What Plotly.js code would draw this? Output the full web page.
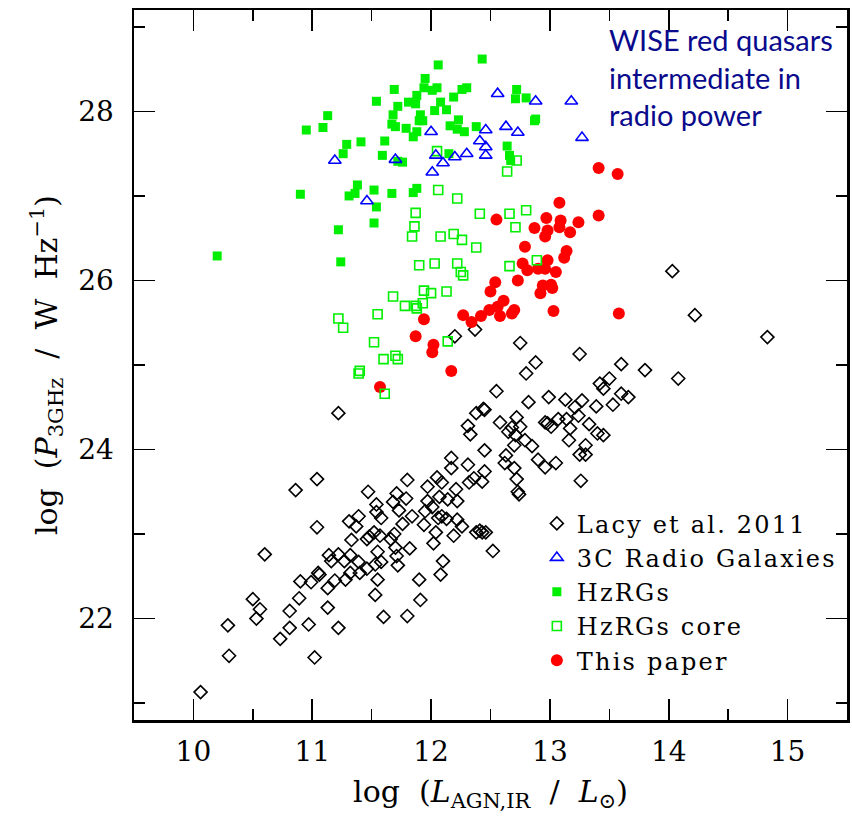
<!DOCTYPE html>
<html>
<head>
<meta charset="utf-8">
<script src="https://cdn.plot.ly/plotly-3.0.1.min.js"></script>
<style>
  html, body { margin: 0; padding: 0; background: #fff; }
  #chart { width: 852px; height: 818px; }
  /* wide, evenly spaced legend lettering (also applies while the legend is measured) */
  .legendtext { letter-spacing: 2.2px; }
</style>
</head>
<body>
<div id="chart"></div>
<script>
// log L_AGN,IR (x) and log P_3GHz (y) for each sample

// Lacy et al. 2011
const lacyX = [10.06,10.29,10.30,10.50,10.53,10.56,10.60,10.73,10.81,10.81,10.86,10.89,10.90,10.97,10.99,11.02,11.04,11.04,11.05,11.06,
  11.13,11.13,11.14,11.16,11.19,11.22,11.22,11.22,11.27,11.28,11.31,11.32,11.32,11.33,11.37,11.39,11.39,11.40,11.46,11.46,
  11.47,11.48,11.52,11.53,11.53,11.54,11.54,11.55,11.55,11.57,11.58,11.58,11.60,11.66,11.68,11.69,11.70,11.71,11.71,11.72,
  11.73,11.76,11.79,11.80,11.80,11.82,11.84,11.90,11.91,11.94,11.95,11.97,11.97,12.01,12.02,12.04,12.05,12.06,12.07,12.08,
  12.09,12.09,12.10,12.13,12.14,12.17,12.17,12.19,12.21,12.22,12.22,12.26,12.31,12.31,12.33,12.36,12.38,12.38,12.41,12.43,
  12.46,12.52,12.45,12.44,12.58,12.68,12.72,12.75,12.65,12.71,12.70,12.79,12.85,12.63,12.62,12.70,12.72,12.73,12.90,12.96,
  12.96,12.82,12.45,12.43,14.22,14.83,12.75,12.20,12.37,13.25,12.88,12.80,13.60,13.80,14.08,12.55,13.50,13.42,13.45,13.60,
  13.66,12.99,13.13,13.27,13.21,13.24,13.39,13.53,12.45,12.98,13.01,13.07,13.14,13.17,13.33,13.40,13.45,13.16,13.25,13.30,
  13.30,13.26,13.05,12.74,12.32,14.03];
const lacyY = [21.13,21.92,21.56,22.23,22.00,22.11,22.76,21.76,21.89,22.09,23.52,22.24,22.44,21.93,22.43,21.54,23.65,23.08,22.54,22.52,
  22.36,22.13,22.75,22.68,22.45,21.89,22.76,24.43,22.68,22.46,23.15,22.54,22.75,22.93,23.09,23.21,22.67,22.54,22.59,22.94,
  23.50,22.97,23.02,22.64,22.28,23.35,23.26,22.79,22.46,22.98,22.67,23.19,22.02,22.94,23.38,23.00,22.84,22.74,23.48,22.63,
  23.28,23.12,23.42,23.64,22.03,22.83,23.21,22.46,22.22,23.11,23.27,23.56,23.39,23.32,22.89,23.02,23.67,23.19,23.44,22.52,
  23.61,23.21,22.68,23.18,23.41,23.90,23.78,22.98,23.53,23.39,23.17,23.09,23.82,24.28,24.18,23.66,24.43,23.02,23.04,23.02,
  23.02,22.80,23.99,24.48,24.32,24.26,24.38,24.27,24.21,24.17,24.05,24.11,24.04,23.93,23.84,23.78,23.65,23.50,23.88,23.79,
  24.32,24.56,23.74,23.62,25.59,25.33,25.26,25.34,25.42,25.13,25.03,24.90,25.01,24.94,24.84,24.69,24.84,24.78,24.72,24.66,
  24.62,24.62,24.59,24.58,24.50,24.40,24.51,24.53,24.47,24.31,24.27,24.36,24.36,24.25,24.30,24.19,24.17,24.11,23.94,24.05,
  23.94,23.63,23.84,23.47,23.61,26.11];

// 3C radio galaxies
const radio3cX = [12.56,12.88,13.18,13.27,12.00,12.63,12.73,12.46,12.41,12.46,12.46,12.30,12.20,12.10,12.04,12.01,11.70,11.19,11.46];
const radio3cY = [28.21,28.12,28.12,27.69,27.76,27.82,27.75,27.78,27.65,27.58,27.48,27.50,27.46,27.39,27.48,27.28,27.43,27.42,26.94];

// High-redshift radio galaxies, total emission
const hzrgX = [12.43,12.06,11.95,11.69,11.94,12.01,12.05,12.26,12.30,12.72,12.71,12.80,11.54,11.72,11.81,11.87,11.88,12.19,12.08,12.03,
  12.13,11.13,10.95,11.09,11.68,11.67,11.70,11.79,11.91,11.90,11.93,11.88,11.85,12.23,12.16,12.22,12.28,12.38,12.88,12.87,
  11.29,11.26,11.41,11.61,11.59,11.76,11.72,12.15,12.64,12.66,12.67,11.38,11.36,11.31,11.52,11.67,11.54,11.88,11.85,10.90,
  11.52,11.22,10.20,11.24];
const hzrgY = [28.62,28.55,28.39,28.26,28.28,28.25,28.28,28.26,28.28,28.26,28.15,28.16,28.12,28.06,28.11,28.09,28.19,28.17,28.11,28.01,
  28.02,27.95,27.78,27.81,27.96,27.85,27.82,27.80,27.96,27.89,27.89,27.76,27.70,27.90,27.83,27.79,27.76,27.82,27.91,27.89,
  27.61,27.50,27.64,27.65,27.48,27.40,27.41,27.50,27.59,27.48,27.42,27.13,27.03,27.00,27.07,27.03,26.87,27.09,27.04,27.02,
  26.68,26.60,26.29,26.22];

// High-redshift radio galaxies, core emission
const coreX = [12.06,12.22,11.87,12.41,11.86,11.84,12.08,12.19,12.26,12.38,11.90,12.03,12.22,12.25,12.27,11.94,12.00,12.13,11.68,11.78,
  11.87,11.88,11.93,11.55,11.22,11.26,11.52,12.14,11.60,11.70,11.72,11.40,11.39,11.61,12.66,12.80,12.71,12.66,12.89,12.05,
  12.72,12.64];
const coreY = [27.07,26.97,26.80,26.79,26.64,26.52,26.52,26.55,26.48,26.39,26.18,26.20,26.20,26.10,26.06,25.88,25.85,25.87,25.81,25.70,
  25.70,25.67,25.73,25.60,25.55,25.44,25.27,25.28,25.07,25.11,25.07,24.93,24.90,24.66,26.79,26.83,26.63,26.17,26.24,27.53,
  27.42,27.29];

// WISE red quasars (this paper)
const paperX = [13.41,13.57,13.08,13.41,12.55,12.97,13.09,13.08,13.24,12.87,12.98,12.96,13.17,12.79,13.14,13.12,12.77,12.81,12.90,12.98,
  12.96,13.05,12.73,12.54,12.50,12.94,13.01,12.92,13.02,12.61,12.56,12.49,12.58,12.70,12.68,12.42,12.27,12.34,13.03,13.58,
  11.94,11.87,12.02,12.01,12.17,11.57];
const paperY = [27.33,27.26,26.92,26.77,26.72,26.74,26.71,26.63,26.69,26.62,26.59,26.52,26.57,26.40,26.35,26.27,26.20,26.12,26.14,26.24,
  26.14,26.10,26.00,25.98,25.87,25.94,25.95,25.85,25.91,25.76,25.69,25.65,25.58,25.65,25.61,25.58,25.59,25.51,25.64,25.61,
  25.54,25.34,25.24,25.15,24.93,24.74];

const names = ['Lacy et al. 2011', '3C Radio Galaxies', 'HzRGs', 'HzRGs core', 'This paper'];

const GREEN = '#00ee00';
const serif = 'DejaVu Serif, Liberation Serif, serif';
const SP = '&nbsp;';

// drawing order: diamonds, red circles, filled squares, open squares, triangles
const traces = [
  { x: lacyX, y: lacyY, name: names[0], legendrank: 1,
    mode: 'markers', type: 'scatter',
    marker: { symbol: 'diamond-open', size: 10, color: '#000', line: { width: 1.6, color: '#000' } } },
  { x: paperX, y: paperY, name: names[4], legendrank: 5,
    mode: 'markers', type: 'scatter',
    marker: { symbol: 'circle', size: 12, color: '#ff0000', line: { width: 0 } } },
  { x: hzrgX, y: hzrgY, name: names[2], legendrank: 3,
    mode: 'markers', type: 'scatter',
    marker: { symbol: 'square', size: 9, color: GREEN, line: { width: 0 } } },
  { x: coreX, y: coreY, name: names[3], legendrank: 4,
    mode: 'markers', type: 'scatter',
    marker: { symbol: 'square-open', size: 9, color: GREEN, line: { width: 1.6, color: GREEN } } },
  { x: radio3cX, y: radio3cY, name: names[1], legendrank: 2,
    mode: 'markers', type: 'scatter',
    marker: { symbol: 'triangle-up-open', size: 11, color: '#0000ff', line: { width: 1.6, color: '#0000ff' } } }
];

const axisCommon = {
  showline: true, linecolor: '#000', linewidth: 2.5, mirror: 'ticks',
  ticks: 'inside', tickcolor: '#000', tickwidth: 1.6,
  showgrid: false, zeroline: false,
  tickfont: { family: serif, size: 28, color: '#000' }
};

const layout = {
  width: 852, height: 818,
  margin: { l: 134, r: 5, t: 10, b: 98 },
  paper_bgcolor: '#fff', plot_bgcolor: '#fff',
  showlegend: true,
  legend: {
    x: 0.565, y: 0.308, xanchor: 'left', yanchor: 'top',
    bgcolor: 'rgba(0,0,0,0)', borderwidth: 0,
    font: { family: serif, size: 24, color: '#000' },
    itemwidth: 30, tracegroupgap: 0
  },
  xaxis: Object.assign({}, axisCommon, {
    range: [9.5, 15.5], tick0: 10, dtick: 1, ticklen: 21, ticklabelstandoff: 5,
    minor: { dtick: 0.5, tick0: 10, ticklen: 11, ticks: 'inside', tickcolor: '#000', tickwidth: 1.6 },
    title: { text: 'log' + SP + SP + '(<i>L</i><sub>AGN,IR</sub>' + SP + SP + '/' + SP + SP + '<i>L</i><sub>⊙</sub>)',
             font: { family: serif, size: 30, color: '#000' }, standoff: 14 }
  }),
  yaxis: Object.assign({}, axisCommon, {
    range: [20.8, 29.2], tick0: 20, dtick: 2, ticklen: 21, ticklabelstandoff: 12,
    minor: { dtick: 1, tick0: 20, ticklen: 11, ticks: 'inside', tickcolor: '#000', tickwidth: 1.6 },
    title: { text: 'log' + SP + SP + '(<i>P</i><sub>3GHz</sub>' + SP + SP + '/' + SP + SP + 'W' + SP + SP + 'Hz<sup>−1</sup>)',
             font: { family: serif, size: 30, color: '#000' }, standoff: 12 }
  }),
  annotations: [{
    xref: 'paper', yref: 'paper', x: 0.663, y: 0.986, xanchor: 'left', yanchor: 'top',
    align: 'left', showarrow: false,
    text: 'WISE red quasars<br>intermediate in<br>radio power',
    font: { family: 'Lato, Open Sans, sans-serif', size: 29, color: '#0a0a8c' }
  }]
};

Plotly.newPlot('chart', traces, layout, { staticPlot: true, displayModeBar: false });
</script>
</body>
</html>
